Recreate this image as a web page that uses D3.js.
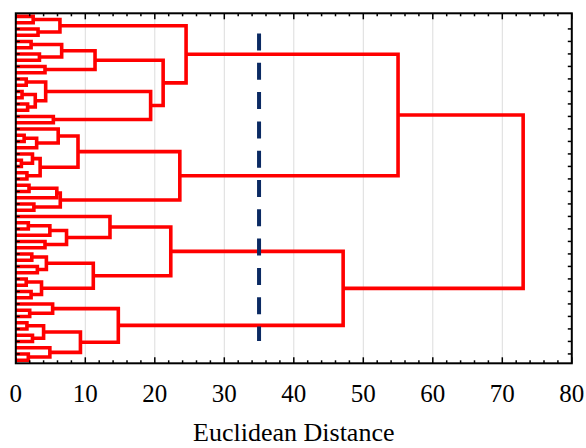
<!DOCTYPE html>
<html><head><meta charset="utf-8">
<script src="https://cdn.jsdelivr.net/npm/d3@7"></script>
<style>body{margin:0;background:#fff}</style>
</head><body>
<svg id="chart" width="586" height="448"></svg>
<script>
// Dendrogram data: each merge is [distance, left, right]; 0 = a single observation
const g1  = [6.35, [2.5, 0, 0], [3.2, 0, 0]];
const g2  = [6.6, [2.2, 0, 0], [3.4, 0, 0]];
const g3  = [4.2, 0, 0];
const g4  = [4.3, [1.5, 0, 0], [2.8, [0.9, 0, 0], [1.7, 0, 0]]];
const g5  = [5.4, 0, 0];
const g6a = [6.1, 0, [3.0, [1.2, 0, 0], 0]];
const g6b = [3.5, [2.4, 0, [0.8, 0, 0]], [1.6, 0, 0]];
const g7  = [6.4, [5.9, [1.9, 0, 0], 0], [2.6, 0, 0]];
const g8a = 0;
const g8b = [7.3, [4.9, [1.8, 0, 0], 0], [4.2, 0, 0]];
const g9a = [4.4, [2.3, 0, 0], [3.1, 0, 0]];
const g9b = [3.7, [1.5, 0, 0], [2.2, 0, 0]];
const g10a = [5.3, 0, [2.0, 0, 0]];
const g10b = [9.3, [4.0, [1.6, 0, 0], [2.4, 0, 0]], [4.9, 0, [1.8, 0, 0]]];
const upperCluster = [55.0, [24.5, g1, [21.2, [11.4, g2, g3], [19.4, g4, g5]]], [23.6, [8.95, g6a, g6b], g7]];
const lowerCluster = [47.1, [22.3, [13.55, g8a, g8b], [11.15, g9a, g9b]], [14.75, g10a, g10b]];
const rootDistance = 73.0;
const xTickValues = [0, 10, 20, 30, 40, 50, 60, 70, 80];
const xMinorValues = d3.range(0, 81, 2);
const cutoffDistance = 35;
const xTitle = "Euclidean Distance";

const W = 586, H = 448;
const L = 15.8, R = 571.8, T = 13.3, B = 363.3;
const svg = d3.select("#chart");

const root = d3.hierarchy([rootDistance, upperCluster, lowerCluster],
  d => Array.isArray(d) ? d.slice(1) : null);
const leaves = root.leaves();
const N = leaves.length;
const x = d3.scaleLinear().domain([0, 80]).range([L, R]);
const y = d3.scaleBand().domain(d3.range(N)).range([T, B]);
const yTickValues = d3.range(2, N - 1, 2);

leaves.forEach((lf, i) => { lf.py = y(i) + y.bandwidth() / 2; });
root.eachAfter(n => {
  n.h = Array.isArray(n.data) ? n.data[0] : 0;
  if (n.children) n.py = d3.mean(n.children, c => c.py);
});

// grid
svg.append("g").selectAll("line").data(xTickValues.slice(1, -1)).join("line")
  .attr("x1", d => x(d)).attr("x2", d => x(d)).attr("y1", T).attr("y2", B)
  .attr("stroke", "#dcdcdc").attr("stroke-width", 1);

// tree
svg.append("g").selectAll("path").data(root.descendants().filter(n => n.children)).join("path")
  .attr("d", n => {
    const [a, b] = n.children;
    return `M${x(a.h)},${a.py}H${x(n.h)}V${b.py}H${x(b.h)}`;
  })
  .attr("fill", "none").attr("stroke", "#ff0000").attr("stroke-width", 3.6)
  .attr("stroke-linejoin", "miter");

// cutoff line
svg.append("line").attr("x1", x(cutoffDistance)).attr("x2", x(cutoffDistance))
  .attr("y1", 33.5).attr("y2", 341)
  .attr("stroke", "#0b2a63").attr("stroke-width", 4).attr("stroke-dasharray", "17,12.3");

// frame
svg.append("rect").attr("x", L).attr("y", T).attr("width", R - L).attr("height", B - T)
  .attr("fill", "none").attr("stroke", "#000").attr("stroke-width", 2);

// ticks
const tg = svg.append("g").attr("stroke", "#000").attr("stroke-width", 1.5);
xMinorValues.forEach(v => {
  const len = v % 10 === 0 ? 6 : 3;
  tg.append("line").attr("x1", x(v)).attr("x2", x(v)).attr("y1", B).attr("y2", B - len);
  tg.append("line").attr("x1", x(v)).attr("x2", x(v)).attr("y1", T).attr("y2", T + len);
});
yTickValues.forEach(i => {
  const yy = y(i) + y.bandwidth() / 2;
  tg.append("line").attr("x1", L).attr("x2", L + 4).attr("y1", yy).attr("y2", yy);
  tg.append("line").attr("x1", R).attr("x2", R - 4).attr("y1", yy).attr("y2", yy);
});

// labels
svg.append("g").selectAll("text").data(xTickValues).join("text")
  .attr("x", d => x(d)).attr("y", 402).attr("text-anchor", "middle")
  .attr("font-family", "Liberation Serif, Times New Roman, serif").attr("font-size", 25)
  .attr("fill", "#000").text(d => d);
svg.append("text").attr("x", (L + R) / 2).attr("y", 441).attr("text-anchor", "middle")
  .attr("font-family", "Liberation Serif, Times New Roman, serif").attr("font-size", 26)
  .attr("fill", "#000").text(xTitle);
</script>
</body></html>
